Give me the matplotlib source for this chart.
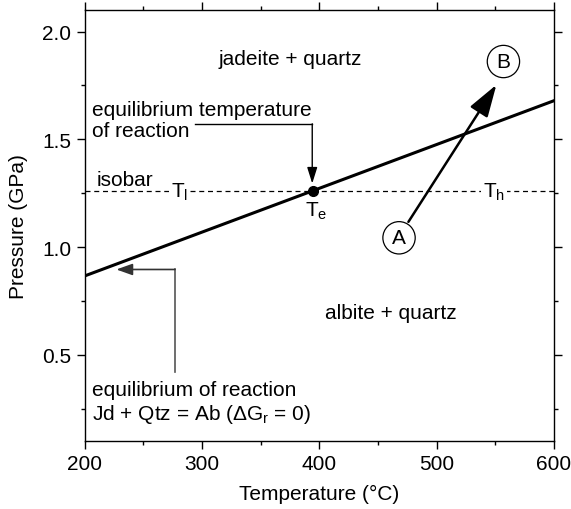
import matplotlib
matplotlib.use('Agg')
import matplotlib.pyplot as plt
from matplotlib.ticker import MultipleLocator

plt.rcParams['font.family'] = ['Liberation Sans', 'DejaVu Sans']
plt.rcParams['mathtext.fontset'] = 'custom'
plt.rcParams['mathtext.rm'] = 'Liberation Sans'
plt.rcParams['mathtext.it'] = 'Liberation Sans'

# equilibrium line Jd + Qtz = Ab
eq_temp = [200, 600]
eq_press = [0.866, 1.679]

# isobar and equilibrium temperature
isobar_press = 1.26
isobar_temp = [200, 600]
te_temp = 395

# path A -> B
path_temp = [476, 551]
path_press = [1.117, 1.753]
label_a = (468, 1.043)
label_b = (557, 1.861)

# leader for "equilibrium temperature of reaction"
lead1_temp = [294, 394]
lead1_press = [1.572, 1.572]
lead1_tip = 1.295

# leader for "equilibrium of reaction"
lead2_temp = [277, 277]
lead2_press = [0.418, 0.896]
lead2_tip = 227

fig = plt.figure(figsize=(5.71, 5.10), dpi=100)
ax = fig.add_axes([0.1483, 0.1333, 0.8217, 0.8451])

ax.plot(eq_temp, eq_press, color='black', lw=2.2, zorder=3)
ax.plot(isobar_temp, [isobar_press] * 2, color='black', lw=0.9,
        dashes=(4, 3), zorder=2)
ax.plot([te_temp], [isobar_press], 'o', color='black', ms=7, zorder=4)

# A -> B path
ax.annotate('', xy=(path_temp[1], path_press[1]),
            xytext=(path_temp[0], path_press[0]),
            arrowprops=dict(arrowstyle='-|>,head_length=1.1,head_width=0.35',
                            color='black', lw=1.8, mutation_scale=18,
                            shrinkA=0, shrinkB=0), zorder=3)
circ = dict(boxstyle='circle,pad=0.32', fc='white', ec='black', lw=0.9)
ax.text(*label_a, 'A', fontsize=15, ha='center', va='center', bbox=circ, zorder=5)
ax.text(*label_b, 'B', fontsize=15, ha='center', va='center', bbox=circ, zorder=5)

# leader 1
ax.plot(lead1_temp, lead1_press, color='black', lw=1.0)
ax.annotate('', xy=(lead1_temp[1], lead1_tip),
            xytext=(lead1_temp[1], lead1_press[1]),
            arrowprops=dict(arrowstyle='-|>,head_length=0.7,head_width=0.22',
                            color='black', lw=1.0, mutation_scale=14,
                            shrinkA=0, shrinkB=0))

# leader 2
ax.plot(lead2_temp, lead2_press, color='#555555', lw=1.2)
ax.annotate('', xy=(lead2_tip, lead2_press[1]),
            xytext=(lead2_temp[0], lead2_press[1]),
            arrowprops=dict(arrowstyle='-|>,head_length=0.7,head_width=0.25',
                            color='#333333', lw=1.2, mutation_scale=14,
                            shrinkA=0, shrinkB=0))

fs = 15
ax.text(375, 1.876, 'jadeite + quartz', fontsize=fs, ha='center', va='center')
ax.text(461, 0.696, 'albite + quartz', fontsize=fs, ha='center', va='center')
ax.text(206, 1.59, 'equilibrium temperature\nof reaction', fontsize=fs,
        ha='left', va='center', linespacing=1.1)
ax.text(206, 0.279, 'equilibrium of reaction\nJd + Qtz = Ab (ΔG$_\\mathregular{r}$ = 0)',
        fontsize=fs, ha='left', va='center', linespacing=1.2)
ax.text(210, 1.313, 'isobar', fontsize=fs, ha='left', va='center')

wb = dict(boxstyle='square,pad=0.1', fc='white', ec='none')
ax.text(281, isobar_press, 'T$_\\mathregular{l}$', fontsize=fs, ha='center',
        va='center', bbox=wb, zorder=2.5)
ax.text(549, isobar_press, 'T$_\\mathregular{h}$', fontsize=fs, ha='center',
        va='center', bbox=wb, zorder=2.5)
ax.text(397, 1.17, 'T$_\\mathregular{e}$', fontsize=fs, ha='center', va='center')

ax.set_xlim(200, 600)
ax.set_ylim(0.1, 2.1)
ax.xaxis.set_major_locator(MultipleLocator(100))
ax.xaxis.set_minor_locator(MultipleLocator(50))
ax.yaxis.set_major_locator(MultipleLocator(0.5))
ax.yaxis.set_minor_locator(MultipleLocator(0.25))
ax.yaxis.set_major_formatter(matplotlib.ticker.FormatStrFormatter('%.1f'))
ax.tick_params(which='both', direction='out', top=True, right=True,
               labelsize=fs, width=1.0)
ax.tick_params(which='major', length=6)
ax.tick_params(which='minor', length=3)
for s in ax.spines.values():
    s.set_linewidth(1.0)
ax.set_xlabel('Temperature (°C)', fontsize=fs, labelpad=8)
ax.set_ylabel('Pressure (GPa)', fontsize=fs, labelpad=10)

fig.savefig('out.png', dpi=100)
